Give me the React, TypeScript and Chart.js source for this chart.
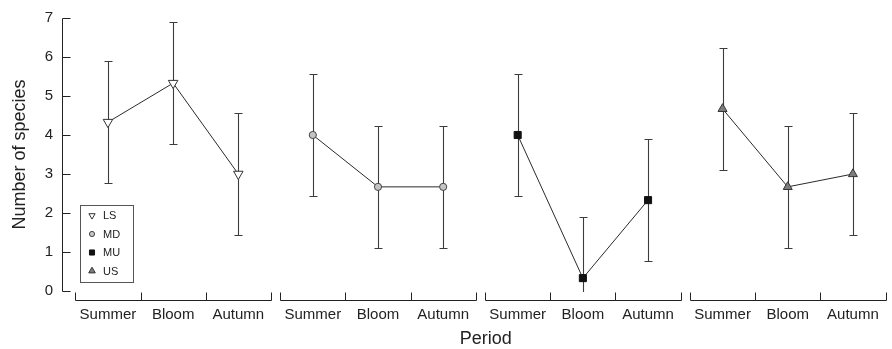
import React, { useEffect, useRef } from 'react';
import { Chart, registerables } from 'chart.js';
import { drawPoint } from 'chart.js/helpers';

Chart.register(...registerables);

// ---- data ----
const periods = ['Summer', 'Bloom', 'Autumn'];
const sites = ['LS', 'MD', 'MU', 'US'];
const lsMeans = [4.33, 5.33, 3.0];
const mdMeans = [4.0, 2.67, 2.67];
const muMeans = [4.0, 0.33, 2.33];
const usMeans = [4.67, 2.67, 3.0];
const lsErr = [1.57, 1.57, 1.57];
const mdErr = [1.57, 1.57, 1.57];
const muErr = [1.57, 1.57, 1.57];
const usErr = [1.57, 1.57, 1.57];
const yTickValues = [0, 1, 2, 3, 4, 5, 6, 7];
const yLabel = 'Number of species';
const xLabel = 'Period';

// ---- layout constants (not data) ----
const GROUP_STEP = 3.143;
const X_MIN = -0.205;
const X_MAX = 3 * GROUP_STEP + 3;
const FONT = "'Liberation Sans', Arial, Helvetica, sans-serif";
const INK = '#222';

const means = [lsMeans, mdMeans, muMeans, usMeans];
const errs = [lsErr, mdErr, muErr, usErr];
const styles = [
  { pointStyle: 'triangle', rotation: 180, radius: 5.5, fill: '#ffffff', stroke: '#333', legendRadius: 3.6 },
  { pointStyle: 'circle', rotation: 0, radius: 3.6, fill: '#c4c4c4', stroke: '#444', legendRadius: 2.6 },
  { pointStyle: 'rect', rotation: 0, radius: 5, fill: '#111111', stroke: '#111', legendRadius: 3.6 },
  { pointStyle: 'triangle', rotation: 0, radius: 5.2, fill: '#7d7d7d', stroke: '#333', legendRadius: 3.8 },
];

const tickPositions: number[] = [];
for (let g = 0; g < sites.length; g++) {
  for (let i = 0; i < periods.length; i++) tickPositions.push(g * GROUP_STEP + i + 0.5);
}

const errorBarsPlugin = {
  id: 'errorBars',
  beforeDatasetsDraw(chart: any) {
    const { ctx, chartArea, scales } = chart;
    const x = scales.x;
    const y = scales.y;
    ctx.save();
    ctx.beginPath();
    ctx.rect(chartArea.left, chartArea.top - 3, chartArea.right - chartArea.left, chartArea.bottom - chartArea.top + 4);
    ctx.clip();
    ctx.strokeStyle = '#3c3c3c';
    ctx.lineWidth = 1.1;
    chart.data.datasets.forEach((ds: any) => {
      ds.data.forEach((p: any, i: number) => {
        const e = ds.errors[i];
        const px = Math.round(x.getPixelForValue(p.x)) + 0.5;
        const top = Math.round(y.getPixelForValue(p.y + e)) + 0.5;
        const bot = Math.round(y.getPixelForValue(p.y - e)) + 0.5;
        ctx.beginPath();
        ctx.moveTo(px, top);
        ctx.lineTo(px, bot);
        ctx.moveTo(px - 4, top);
        ctx.lineTo(px + 4, top);
        ctx.moveTo(px - 4, bot);
        ctx.lineTo(px + 4, bot);
        ctx.stroke();
      });
    });
    ctx.restore();
  },
};

const axesPlugin = {
  id: 'customAxes',
  afterDraw(chart: any) {
    const { ctx, chartArea, scales } = chart;
    const x = scales.x;
    const y = scales.y;
    ctx.save();
    ctx.strokeStyle = INK;
    ctx.lineWidth = 1;
    // y axis with inward ticks
    const ax = Math.round(chartArea.left) + 0.5;
    const yTop = Math.round(y.getPixelForValue(yTickValues[yTickValues.length - 1])) + 0.5;
    const yBot = Math.round(y.getPixelForValue(yTickValues[0])) + 0.5;
    ctx.beginPath();
    ctx.moveTo(ax, yTop);
    ctx.lineTo(ax, yBot);
    yTickValues.forEach((v) => {
      const py = Math.round(y.getPixelForValue(v)) + 0.5;
      ctx.moveTo(ax, py);
      ctx.lineTo(ax + 8, py);
    });
    ctx.stroke();
    // segmented x axis
    const ay = Math.round(chartArea.bottom + 9) + 0.5;
    ctx.beginPath();
    for (let g = 0; g < sites.length; g++) {
      const s = Math.round(x.getPixelForValue(g * GROUP_STEP)) + 0.5;
      const e = Math.round(x.getPixelForValue(g * GROUP_STEP + periods.length)) + 0.5;
      ctx.moveTo(s, ay);
      ctx.lineTo(e, ay);
      for (let k = 0; k <= periods.length; k++) {
        const tx = Math.round(x.getPixelForValue(g * GROUP_STEP + k)) + 0.5;
        ctx.moveTo(tx, ay);
        ctx.lineTo(tx, ay - 8);
      }
    }
    ctx.stroke();
    // x title
    ctx.fillStyle = INK;
    ctx.font = `18px ${FONT}`;
    ctx.textAlign = 'center';
    ctx.textBaseline = 'middle';
    const cx = (chartArea.left + chartArea.right) / 2 + 12;
    ctx.fillText(xLabel, cx, chart.height - 10);
    // legend
    const bx = Math.round(chartArea.left + 18) + 0.5;
    const by = 205.5;
    const bw = 53;
    const bh = 77;
    ctx.strokeStyle = '#555';
    ctx.strokeRect(bx, by, bw, bh);
    ctx.font = `11px ${FONT}`;
    ctx.textAlign = 'left';
    chart.data.datasets.forEach((ds: any, i: number) => {
      const st = styles[i];
      const ry = by + 10 + i * 18.5;
      ctx.fillStyle = st.fill;
      ctx.strokeStyle = st.stroke;
      ctx.lineWidth = 1;
      drawPoint(ctx, { pointStyle: st.pointStyle, rotation: st.rotation, radius: st.legendRadius, borderWidth: 1 } as any, bx + 11.5, ry);
      ctx.fillStyle = INK;
      ctx.fillText(ds.label, bx + 22.5, ry + 0.5);
    });
    ctx.restore();
  },
};

export default function App() {
  const canvasRef = useRef<HTMLCanvasElement | null>(null);

  useEffect(() => {
    if (!canvasRef.current) return;
    const datasets = sites.map((site, g) => ({
      label: site,
      data: means[g].map((v, i) => ({ x: g * GROUP_STEP + i + 0.5, y: v })),
      errors: errs[g],
      borderColor: '#2a2a2a',
      borderWidth: 1,
      pointStyle: styles[g].pointStyle as any,
      pointRotation: styles[g].rotation,
      pointRadius: styles[g].radius,
      pointBackgroundColor: styles[g].fill,
      pointBorderColor: styles[g].stroke,
      pointBorderWidth: 1,
      tension: 0,
      fill: false,
    }));

    const chart = new Chart(canvasRef.current, {
      type: 'line',
      data: { datasets } as any,
      options: {
        animation: false,
        responsive: false,
        maintainAspectRatio: false,
        layout: { padding: { top: 18, right: 4, left: 0, bottom: 0 } },
        plugins: { legend: { display: false }, tooltip: { enabled: false } },
        scales: {
          x: {
            type: 'linear',
            min: X_MIN,
            max: X_MAX,
            grid: { display: false, drawTicks: false },
            border: { display: false },
            afterBuildTicks: (scale: any) => {
              scale.ticks = tickPositions.map((v) => ({ value: v }));
            },
            afterFit: (scale: any) => {
              scale.height = 58;
              scale.paddingLeft = 0;
              scale.paddingRight = 0;
            },
            ticks: {
              autoSkip: false,
              maxRotation: 0,
              minRotation: 0,
              padding: 15,
              color: INK,
              font: { size: 15, family: FONT },
              callback: (_v: any, index: number) => periods[index % periods.length],
            },
          },
          y: {
            type: 'linear',
            min: 0,
            max: 7,
            grid: { display: false, drawTicks: false },
            border: { display: false },
            afterFit: (scale: any) => {
              scale.width = 62;
              scale.paddingTop = 0;
              scale.paddingBottom = 0;
            },
            ticks: {
              stepSize: 1,
              padding: 9,
              color: INK,
              font: { size: 15, family: FONT },
            },
            title: {
              display: true,
              text: yLabel,
              color: INK,
              font: { size: 18, family: FONT },
              padding: { top: 9, bottom: 0 },
            },
          },
        },
      },
      plugins: [errorBarsPlugin, axesPlugin],
    } as any);
    return () => chart.destroy();
  }, []);

  return (
    <div style={{ position: 'fixed', left: 0, top: 0, width: 892, height: 349, background: '#fff' }}>
      <canvas ref={canvasRef} width={892} height={349} style={{ display: 'block' }} />
    </div>
  );
}
